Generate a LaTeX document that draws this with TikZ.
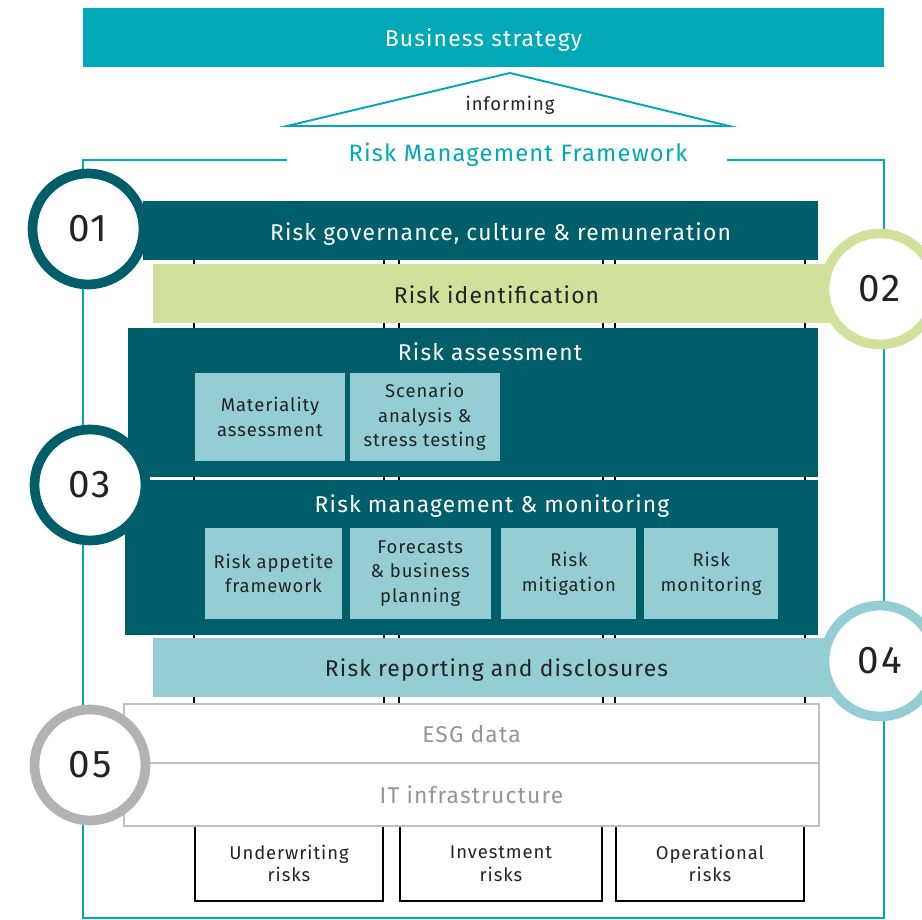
\documentclass[tikz,border=0pt]{standalone}
\usepackage{fontspec}
\setmainfont{Fira Sans}[LetterSpace=5]
\usetikzlibrary{positioning}
\definecolor{brightteal}{RGB}{0,169,181}
\definecolor{darkteal}{RGB}{0,94,107}
\definecolor{lightteal}{RGB}{148,206,212}
\definecolor{lightgreen}{RGB}{209,225,155}
\definecolor{paleborder}{RGB}{192,192,194}
\definecolor{ringgray}{RGB}{178,178,180}
\definecolor{softgray}{RGB}{150,150,152}
\definecolor{darktext}{RGB}{35,35,35}
\tikzset{
    bar/.style={
        rectangle,
        inner sep=0pt,
        minimum height=1.18cm,
        text height=0.38cm,
        text depth=0cm,
        font=\fontsize{13}{15}\selectfont
    },
    dark bar/.style={
        bar,
        fill=darkteal,
        text=white
    },
    bar title/.style={
        inner sep=0pt,
        text=white,
        font=\fontsize{13}{15}\selectfont
    },
    sub box/.style={
        rectangle,
        fill=lightteal,
        inner sep=0pt,
        align=center,
        text=darktext,
        font=\fontsize{10.5}{14}\selectfont
    },
    data bar/.style={
        bar,
        fill=white,
        draw=paleborder,
        line width=1.1pt,
        text=softgray
    },
    pillar/.style={
        rectangle,
        draw=black,
        line width=1.1pt,
        minimum height=1.5cm,
        align=center,
        text=darktext,
        font=\fontsize{10.5}{13}\selectfont
    },
    pillar line/.style={
        draw=black,
        line width=1.1pt
    },
    stage circle/.style={
        circle,
        fill=white,
        line width=5.5pt,
        minimum size=2.22cm,
        inner sep=0pt,
        text=darktext,
        font=\fontsize{22}{26}\selectfont
    },
    frame line/.style={
        draw=brightteal,
        line width=1.1pt
    }
}
\begin{document}
\begin{tikzpicture}
\useasboundingbox (0,0) rectangle (18.44,18.4);

% Business strategy on top
\node[bar, fill=brightteal, text=white, minimum width=16.02cm] (strategy) at (9.67,17.65) {Business strategy};

% Informing roof
\coordinate (roof left) at (5.74,15.88);
\coordinate (roof right) at (14.58,15.88);
\coordinate (roof top) at (10.2,16.94);
\draw[frame line] (roof left) -- (roof top) -- (roof right) -- cycle;
\node[text=darktext, font=\fontsize{10.5}{12}\selectfont] (inform) at (10.2,16.3) {informing};

% Framework outline
\node[text=brightteal, font=\fontsize{13.5}{16}\selectfont] (rmf) at (10.36,15.3) {Risk Management Framework};
\coordinate (frame gap left) at (5.74,15.2);
\coordinate (frame gap right) at (14.54,15.2);
\coordinate (frame nw) at (1.66,15.2);
\coordinate (frame ne) at (17.68,15.2);
\coordinate (frame sw) at (1.66,0.04);
\coordinate (frame se) at (17.68,0.04);
\draw[frame line] (frame gap left) -- (frame nw) -- (frame sw) -- (frame se) -- (frame ne) -- (frame gap right);

% Risk pillars
\node[pillar, minimum width=3.76cm] (uw) at (5.78,1.13) {Underwriting\\risks};
\node[pillar, minimum width=4.04cm] (inv) at (10.02,1.13) {Investment\\risks};
\node[pillar, minimum width=3.76cm] (op) at (14.2,1.13) {Operational\\risks};

% Governance bar
\node[dark bar, minimum width=13.5cm,
      label={[bar title, xshift=0.4cm, yshift=-0.08cm]center:Risk governance, culture \& remuneration}]
     (gov) at (9.61,13.79) {};

\foreach \p in {uw,inv,op} {
    \draw[pillar line] (\p.north west) -- (\p.north west |- gov.south);
    \draw[pillar line] (\p.north east) -- (\p.north east |- gov.south);
}

% Identification
\node[bar, fill=lightgreen, text=darktext, minimum width=13.74cm] (ident) at (9.93,12.52) {Risk identification};

% Assessment
\node[dark bar, minimum width=13.8cm, minimum height=2.98cm] (assess) at (9.46,10.35) {};
\node[bar title, below=0.3cm of assess.north, xshift=0.34cm] (assess title) {Risk assessment};
\node[sub box, minimum width=3cm, minimum height=1.76cm] (mat) at (5.4,10.06) {Materiality\\assessment};
\node[sub box, minimum width=3cm, minimum height=1.76cm, right=0.08cm of mat] (scen) {Scenario\\analysis \&\\stress testing};

% Management & monitoring
\node[dark bar, minimum width=13.86cm, minimum height=3.1cm] (manage) at (9.43,7.25) {};
\node[bar title, below=0.3cm of manage.north, xshift=0.41cm] (manage title) {Risk management \& monitoring};
\node[sub box, minimum width=2.74cm, minimum height=1.82cm] (appetite) at (5.47,6.93) {Risk appetite\\framework};
\node[sub box, minimum width=2.82cm, minimum height=1.82cm, right=0.14cm of appetite] (forecast) {Forecasts\\\& business\\planning};
\node[sub box, minimum width=2.7cm, minimum height=1.82cm, right=0.2cm of forecast] (mitig) {Risk\\mitigation};
\node[sub box, minimum width=2.68cm, minimum height=1.82cm, right=0.14cm of mitig] (monit) {Risk\\monitoring};

% Reporting
\node[bar, fill=lightteal, text=darktext, minimum width=13.74cm] (report) at (9.93,5.05) {Risk reporting and disclosures};

% Data and IT
\node[data bar, minimum width=13.9cm] (esg) at (9.43,3.73) {ESG data};
\node[data bar, minimum width=13.9cm, minimum height=1.26cm] (it) at (9.43,2.51) {IT infrastructure};

% Stage circles
\node[stage circle, draw=darkteal] (c01) at (1.76,13.82) {01};
\node[stage circle, draw=lightgreen] (c02) at (17.6,12.62) {02};
\node[stage circle, draw=darkteal] (c03) at (1.8,8.7) {03};
\node[stage circle, draw=lightteal] (c04) at (17.6,5.18) {04};
\node[stage circle, draw=ringgray] (c05) at (1.8,3.1) {05};

\end{tikzpicture}
\end{document}
